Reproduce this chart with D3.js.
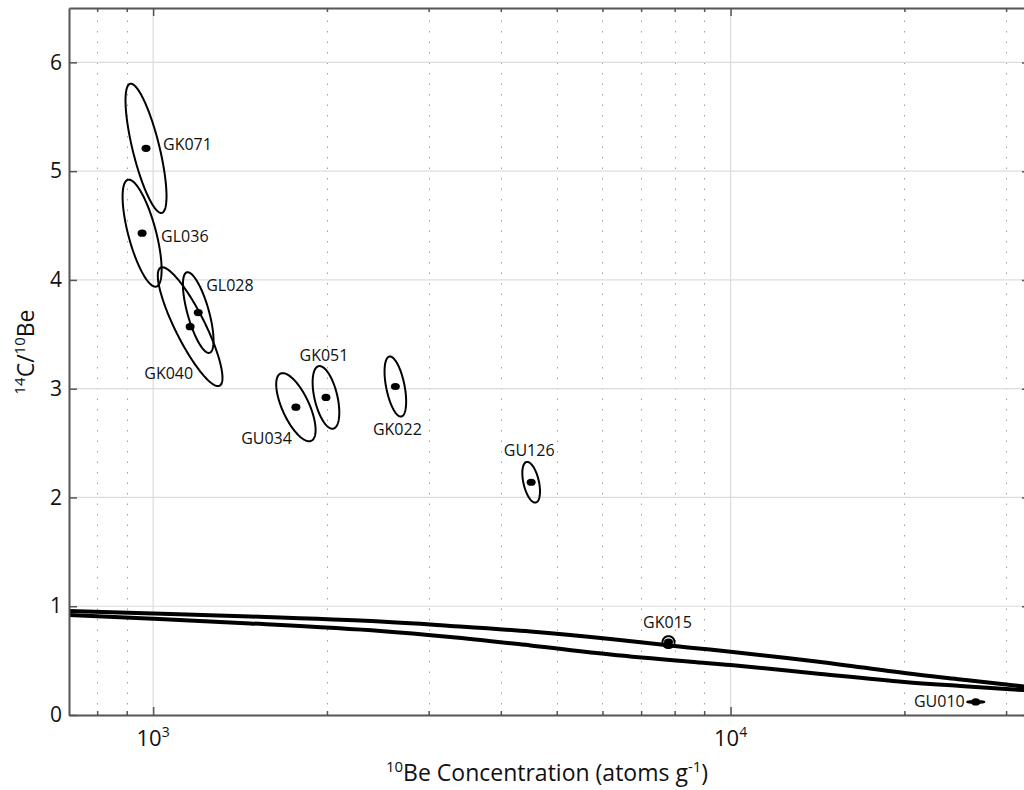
<!DOCTYPE html>
<html><head><meta charset="utf-8">
<script src="https://cdn.jsdelivr.net/npm/d3@7"></script>
<style>
body{margin:0;background:#fff}
svg{display:block}
text{font-family:"Open Sans",sans-serif;fill:#111}
</style>
</head><body>
<svg id="chart" width="1024" height="790"></svg>
<script>
// ---------- data ----------
const samples   = ["GK071","GL036","GL028","GK040","GU034","GK051","GK022","GU126","GK015","GU010"];
const be10      = [972, 957, 1197, 1159, 1767, 1992, 2627, 4515, 7807, 26580];       // atoms g-1
const ratio     = [5.21, 4.43, 3.70, 3.57, 2.83, 2.92, 3.02, 2.14, 0.67, 0.12];     // 14C/10Be
const beErrLog  = [0.0355, 0.0338, 0.0265, 0.056, 0.0341, 0.0231, 0.0187, 0.0153, 0.0104, 0.0147]; // ellipse half-width (decades)
const ratioErr  = [0.594, 0.492, 0.371, 0.546, 0.313, 0.288, 0.276, 0.187, 0.055, 0.008];        // ellipse half-height
const errCorr   = [-0.74, -0.68, -0.69, -0.86, -0.67, -0.48, -0.50, -0.45, 0, 0];

const curveBe    = [715, 1000, 1473, 2475, 3271, 4502, 6194, 8525, 10000, 14322, 20000, 25030, 30000, 33110];
const upperRatio = [0.957, 0.934, 0.906, 0.859, 0.819, 0.767, 0.699, 0.619, 0.582, 0.488, 0.386, 0.327, 0.281, 0.253];
const lowerRatio = [0.920, 0.886, 0.842, 0.773, 0.718, 0.640, 0.557, 0.490, 0.460, 0.377, 0.304, 0.267, 0.239, 0.225];

const xDomain = [715, 33000];
const yDomain = [0, 6.5];
const yTicks = [0, 1, 2, 3, 4, 5, 6];
const xMajorTicks = [1000, 10000];
const xMinorTicks = [800, 900, 2000, 3000, 4000, 5000, 6000, 7000, 8000, 9000, 20000, 30000];

// label placement (layout, px offsets from the point)
const labelLayout = [
  {dx: 17, dy: -4, anchor: "start"},
  {dx: 19, dy: 3, anchor: "start"},
  {dx: 8, dy: -27, anchor: "start"},
  {dx: 3, dy: 47, anchor: "end"},
  {dx: -4, dy: 31, anchor: "end"},
  {dx: -2, dy: -42, anchor: "middle"},
  {dx: 2, dy: 43, anchor: "middle"},
  {dx: -2, dy: -32, anchor: "middle"},
  {dx: -1, dy: -20, anchor: "middle"},
  {dx: -11, dy: -1, anchor: "end"}
];

// ---------- layout ----------
const margin = {left: 69, top: 8, right: -6, bottom: 75};
const W = 1024, H = 790;
const iw = W - margin.left - margin.right;
const ih = H - margin.top - margin.bottom;

const svg = d3.select("#chart");
const defs = svg.append("defs");
defs.append("clipPath").attr("id","clip").append("rect").attr("width", iw).attr("height", ih);

const g = svg.append("g").attr("transform", `translate(${margin.left},${margin.top})`);

const x = d3.scaleLog().domain(xDomain).range([0, iw]);
const y = d3.scaleLinear().domain(yDomain).range([ih, 0]);

// grid
g.append("g").attr("class","grid-minor")
  .selectAll("line").data(xMinorTicks).join("line")
  .attr("x1", d => Math.round(x(d)) + 0.5).attr("x2", d => Math.round(x(d)) + 0.5).attr("y1", 2).attr("y2", ih)
  .attr("stroke", "#a0a0a0").attr("stroke-width", 1).attr("stroke-dasharray", "1.5,9");
g.append("g").attr("class","grid-major")
  .selectAll("line").data(xMajorTicks).join("line")
  .attr("x1", d => x(d)).attr("x2", d => x(d)).attr("y1", 0).attr("y2", ih)
  .attr("stroke", "#dcdcdc").attr("stroke-width", 1.2);
g.append("g").attr("class","grid-major-y")
  .selectAll("line").data(yTicks.filter(d => d > 0)).join("line")
  .attr("x1", 0).attr("x2", iw).attr("y1", d => y(d)).attr("y2", d => y(d))
  .attr("stroke", "#dcdcdc").attr("stroke-width", 1.2);

// curves
const plot = g.append("g").attr("clip-path", "url(#clip)");
const line = d3.line().x(d => x(d[0])).y(d => y(d[1])).curve(d3.curveCatmullRom.alpha(0.5));
[upperRatio, lowerRatio].forEach(arr => {
  plot.append("path")
    .datum(curveBe.map((b, i) => [b, arr[i]]))
    .attr("d", line).attr("fill", "none").attr("stroke", "#000").attr("stroke-width", 4);
});

// error ellipses
const tSteps = d3.range(0, 2 * Math.PI + 0.001, Math.PI / 90);
const ellLine = d3.line().x(d => d[0]).y(d => d[1]).curve(d3.curveLinearClosed);
samples.forEach((s, i) => {
  const lx = Math.log10(be10[i]);
  const r = errCorr[i];
  const pts = tSteps.map(t => {
    const u = beErrLog[i] * Math.cos(t);
    const v = ratioErr[i] * (r * Math.cos(t) + Math.sqrt(1 - r * r) * Math.sin(t));
    return [x(Math.pow(10, lx + u)), y(ratio[i] + v)];
  });
  plot.append("path").attr("d", ellLine(pts.slice(0, -1)))
    .attr("fill", "none").attr("stroke", "#000").attr("stroke-width", 2);
  plot.append("ellipse")
    .attr("cx", x(be10[i])).attr("cy", y(ratio[i]))
    .attr("rx", 4.5).attr("ry", 3.6).attr("fill", "#000");
  const L = labelLayout[i];
  g.append("text")
    .attr("x", x(be10[i]) + L.dx).attr("y", y(ratio[i]) + L.dy)
    .attr("dy", "0.35em").attr("text-anchor", L.anchor)
    .attr("font-size", 16).text(s);
});

// axes
const axisColor = "#555";
function styleAxis(sel) {
  sel.select(".domain").attr("stroke", axisColor).attr("stroke-width", 2);
  sel.selectAll(".tick line").attr("stroke", axisColor).attr("stroke-width", 1.5);
}
// left
const yAxis = g.append("g").call(d3.axisLeft(y).tickValues(yTicks).tickSize(-8).tickSizeOuter(0).tickPadding(7).tickFormat(d3.format("d")));
styleAxis(yAxis);
yAxis.selectAll(".tick text").attr("font-size", 21).attr("fill", "#111").attr("font-family", '"Open Sans",sans-serif');
// right
const yAxisR = g.append("g").attr("transform", `translate(${iw},0)`)
  .call(d3.axisRight(y).tickValues(yTicks).tickSize(-8).tickSizeOuter(0).tickFormat(""));
styleAxis(yAxisR);
// bottom major
const xAxis = g.append("g").attr("transform", `translate(0,${ih})`)
  .call(d3.axisBottom(x).tickValues(xMajorTicks).tickSize(-8).tickSizeOuter(0).tickFormat(""));
styleAxis(xAxis);
g.append("g").attr("transform", `translate(0,${ih})`)
  .call(d3.axisBottom(x).tickValues(xMinorTicks).tickSize(-4).tickSizeOuter(0).tickFormat(""))
  .call(s => { s.select(".domain").remove(); s.selectAll(".tick line").attr("stroke", axisColor).attr("stroke-width", 1.5); });
// top
const xAxisT = g.append("g")
  .call(d3.axisTop(x).tickValues(xMajorTicks).tickSize(-8).tickSizeOuter(0).tickFormat(""));
styleAxis(xAxisT);
g.append("g")
  .call(d3.axisTop(x).tickValues(xMinorTicks).tickSize(-4).tickSizeOuter(0).tickFormat(""))
  .call(s => { s.select(".domain").remove(); s.selectAll(".tick line").attr("stroke", axisColor).attr("stroke-width", 1.5); });

// x tick labels with superscript exponent
xMajorTicks.forEach(v => {
  const t = g.append("text")
    .attr("x", x(v)).attr("y", ih + 31).attr("text-anchor", "middle").attr("font-size", 22);
  t.append("tspan").text("10");
  t.append("tspan").attr("font-size", 14).attr("dy", -9).text(String(Math.round(Math.log10(v))));
});

// axis titles
const xt = svg.append("text").attr("x", 547).attr("y", 781).attr("text-anchor", "middle").attr("font-size", 23);
xt.append("tspan").attr("font-size", 15).attr("dy", -9).text("10");
xt.append("tspan").attr("dy", 9).text("Be Concentration (atoms g");
xt.append("tspan").attr("font-size", 15).attr("dy", -9).text("-1");
xt.append("tspan").attr("dy", 9).text(")");

const yt = svg.append("text").attr("transform", "translate(34,352) rotate(-90)")
  .attr("text-anchor", "middle").attr("font-size", 23);
yt.append("tspan").attr("font-size", 15).attr("dy", -9).text("14");
yt.append("tspan").attr("dy", 9).text("C/");
yt.append("tspan").attr("font-size", 15).attr("dy", -9).text("10");
yt.append("tspan").attr("dy", 9).text("Be");
</script>
</body></html>
